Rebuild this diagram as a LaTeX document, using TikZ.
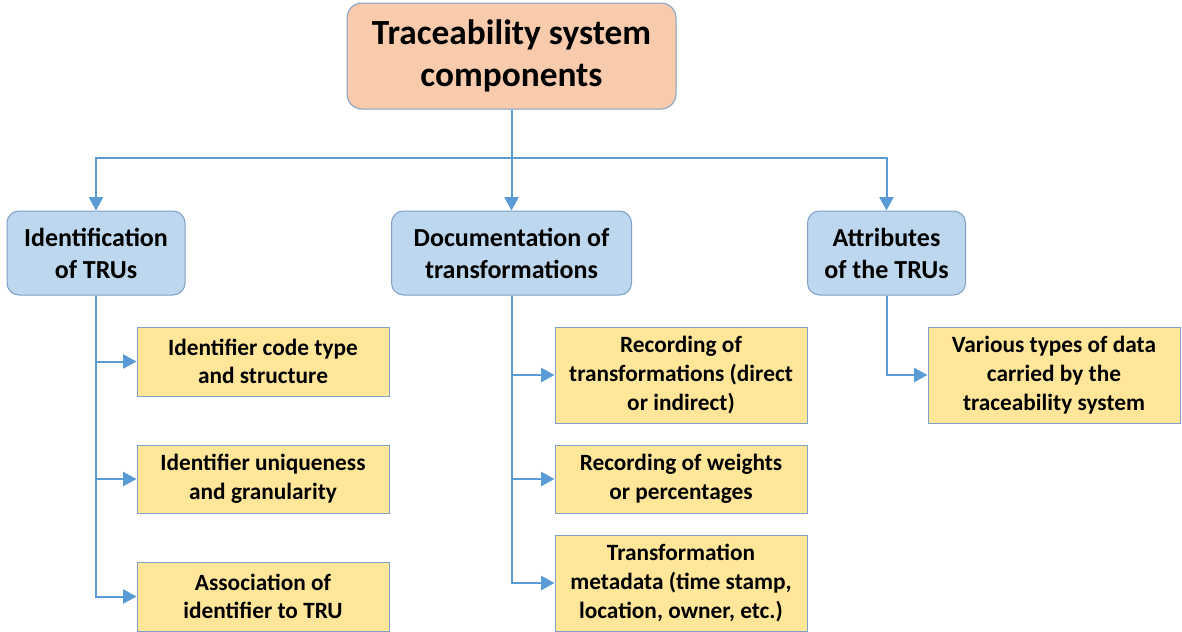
\documentclass[tikz,border=0pt]{standalone}
\usepackage{fontspec}
\setmainfont{Carlito}
\usetikzlibrary{arrows.meta}
\newlength\pxu
\setlength\pxu{0.75pt}
\definecolor{peach}{HTML}{F8CBAD}
\definecolor{paleblue}{HTML}{BDD7EE}
\definecolor{paleyellow}{HTML}{FFE699}
\definecolor{linkblue}{HTML}{5B9BD5}
\definecolor{edgeblue}{HTML}{7F9FC6}
\tikzset{
  rootbox/.style={draw=edgeblue, line width=1\pxu, fill=peach, rounded corners=15\pxu,
    align=center, font=\bfseries\fontsize{26.5}{31}\selectfont, inner sep=0pt},
  groupbox/.style={draw=edgeblue, line width=1\pxu, fill=paleblue, rounded corners=12\pxu,
    align=center, font=\bfseries\fontsize{19.5}{24}\selectfont, inner sep=0pt},
  itembox/.style={draw=edgeblue, line width=1\pxu, fill=paleyellow,
    align=center, font=\bfseries\fontsize{17.5}{21.5}\selectfont, inner sep=0pt,
    minimum width=252\pxu},
  link/.style={draw=linkblue, line width=1.5pt,
    -{Triangle[length=10pt,width=10.5pt]}},
}
\begin{document}
\begin{tikzpicture}[x=\pxu,y=-\pxu]
\useasboundingbox (0,0) rectangle (1182,632);
% root
\node[rootbox, minimum width=329\pxu, minimum height=106\pxu] (root) at (511.5,56)
  {Traceability system\\components};
% groups
\node[groupbox, minimum width=178\pxu, minimum height=84\pxu] (ident) at (96,253)
  {Identification\\of TRUs};
\node[groupbox, minimum width=240\pxu, minimum height=84\pxu] (doc) at (511.5,253)
  {Documentation of\\transformations};
\node[groupbox, minimum width=158\pxu, minimum height=84\pxu] (attr) at (886.5,253)
  {Attributes\\of the TRUs};
% items
\node[itembox, minimum height=69\pxu] (i1) at (263,361.5) {Identifier code type\\and structure};
\node[itembox, minimum height=68\pxu] (i2) at (263,479) {Identifier uniqueness\\and granularity};
\node[itembox, minimum height=69\pxu] (i3) at (263,596.5) {Association of\\identifier to TRU};
\node[itembox, minimum height=96\pxu] (d1) at (681,375) {Recording of\\transformations (direct\\or indirect)};
\node[itembox, minimum height=68\pxu] (d2) at (681,479) {Recording of weights\\or percentages};
\node[itembox, minimum height=96\pxu] (d3) at (681,583) {Transformation\\metadata (time stamp,\\location, owner, etc.)};
\node[itembox, minimum height=96\pxu] (a1) at (1054,375) {Various types of data\\carried by the\\traceability system};
% connectors
\coordinate (bus) at (0,158);
\draw[link] (root.south) -- (doc.north);
\draw[link] (root.south) -- (root.south |- bus) -| (ident.north);
\draw[link] (root.south) -- (root.south |- bus) -| (attr.north);
\draw[link] (ident.south) |- (i1.west);
\draw[link] (ident.south) |- (i2.west);
\draw[link] (ident.south) |- (i3.west);
\draw[link] (doc.south) |- (d1.west);
\draw[link] (doc.south) |- (d2.west);
\draw[link] (doc.south) |- (d3.west);
\draw[link] (attr.south) |- (a1.west);
\end{tikzpicture}
\end{document}
